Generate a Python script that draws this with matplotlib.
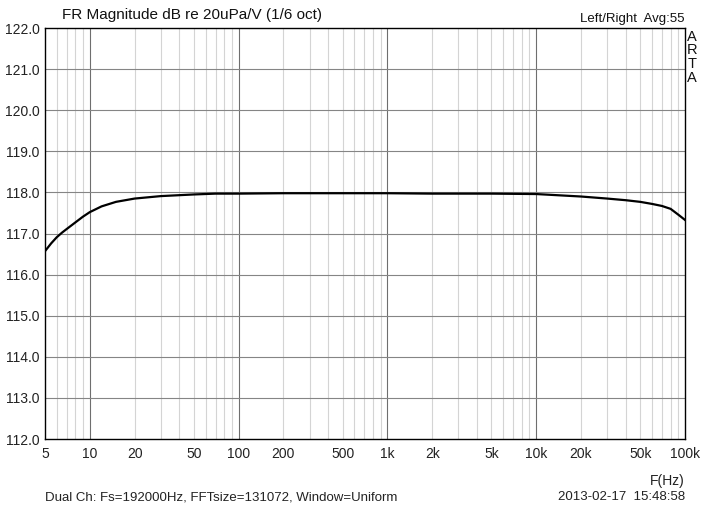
import matplotlib.pyplot as plt
import numpy as np
from matplotlib.ticker import FixedLocator, NullFormatter

plt.rcParams['font.family'] = ['Liberation Sans', 'DejaVu Sans']

# frequency response
freq = [5, 5.5, 6, 6.5, 7, 8, 9, 10, 12, 15, 20, 30, 50, 70, 100, 200, 500,
        1000, 2000, 5000, 10000, 20000, 30000, 40000, 50000, 60000, 70000,
        80000, 90000, 100000]
level = [116.57, 116.76, 116.91, 117.02, 117.11, 117.27, 117.41, 117.52,
         117.66, 117.77, 117.85, 117.91, 117.95, 117.97, 117.97, 117.98,
         117.98, 117.98, 117.97, 117.97, 117.96, 117.90, 117.85, 117.81,
         117.77, 117.72, 117.67, 117.60, 117.46, 117.33]

major_ticks = [5, 10, 20, 50, 100, 200, 500, 1000, 2000, 5000, 10000,
               20000, 50000, 100000]
major_labels = ['5', '10', '20', '50', '100', '200', '500', '1k', '2k',
                '5k', '10k', '20k', '50k', '100k']
y_ticks = np.arange(112, 123, 1)

fig = plt.figure(figsize=(7.02, 5.08), dpi=100)
ax = fig.add_axes([45 / 702, 69 / 508, 640 / 702, 411 / 508])

ax.set_xscale('log')
ax.set_xlim(5, 100000)
ax.set_ylim(112, 122)

# grid: every integer multiple inside each decade
minor = []
for dec in [1, 10, 100, 1000, 10000]:
    for m in range(2, 10):
        minor.append(m * dec)
minor = [v for v in minor if 5 < v < 100000]
for v in minor:
    ax.axvline(v, color='#d4d4d4', lw=0.8, zorder=1)
for v in [10, 100, 1000, 10000]:
    ax.axvline(v, color='#6e6e6e', lw=0.8, zorder=1)
for v in y_ticks[1:-1]:
    ax.axhline(v, color='#858585', lw=0.8, zorder=1)

ax.plot(freq, level, color='black', lw=1.6, zorder=3)

ax.xaxis.set_major_locator(FixedLocator(major_ticks))
ax.set_xticklabels(major_labels)
ax.xaxis.set_minor_formatter(NullFormatter())
ax.set_yticks(y_ticks)
ax.set_yticklabels(['%.1f' % v for v in y_ticks])
ax.tick_params(axis='both', which='both', length=0, labelsize=10,
               colors='#222222')
ax.tick_params(axis='x', pad=6)
ax.tick_params(axis='y', pad=4)
for s in ax.spines.values():
    s.set_color('black')
    s.set_linewidth(1.0)

fig.text(62 / 702, 1 - 15 / 508, 'FR Magnitude dB re 20uPa/V (1/6 oct)',
         fontsize=11, va='center', ha='left', color='#111111')
fig.text(685 / 702, 1 - 19 / 508, 'Left/Right  Avg:55', fontsize=9.5,
         va='center', ha='right', color='#111111')
for i, ch in enumerate('ARTA'):
    fig.text(692 / 702, 1 - (37 + i * 13.5) / 508, ch, fontsize=10.5,
             va='center', ha='center', color='#111111')
fig.text(685 / 702, 1 - 481 / 508, 'F(Hz)', fontsize=10, va='center',
         ha='right', color='#222222')
fig.text(45 / 702, 1 - 497 / 508,
         'Dual Ch: Fs=192000Hz, FFTsize=131072, Window=Uniform',
         fontsize=9.5, va='center', ha='left', color='#222222')
fig.text(685 / 702, 1 - 497 / 508, '2013-02-17  15:48:58', fontsize=9.5,
         va='center', ha='right', color='#222222')

fig.savefig('out.png', dpi=100, facecolor='white')
